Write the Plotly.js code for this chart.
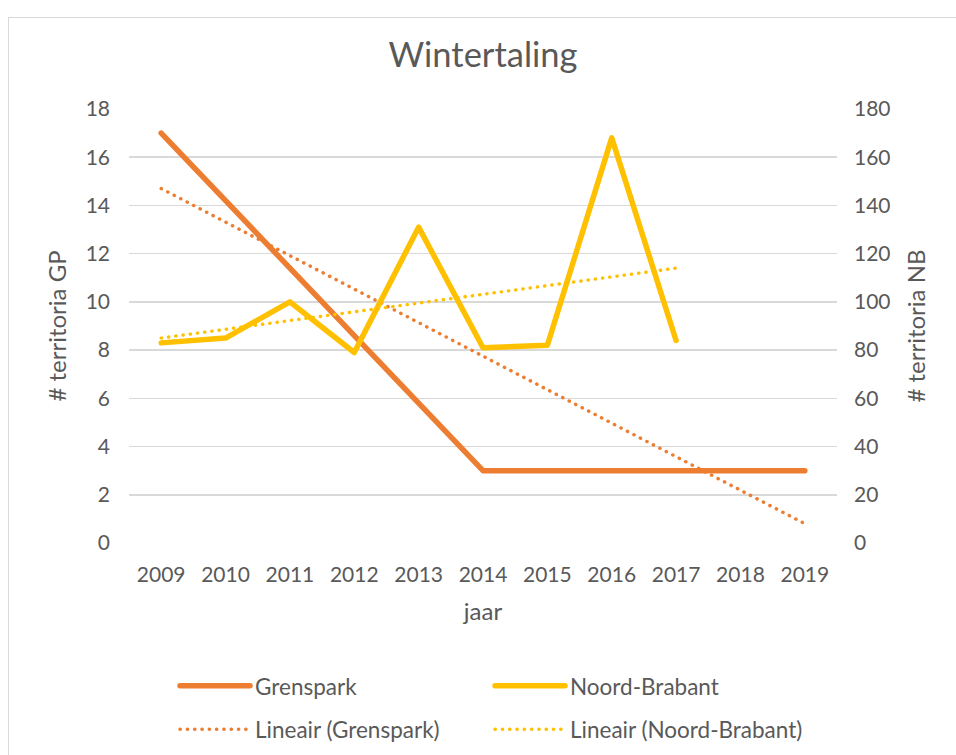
<!DOCTYPE html>
<html>
<head>
<meta charset="utf-8">
<script src="https://cdn.plot.ly/plotly-3.0.1.min.js"></script>
<style>
html,body{margin:0;padding:0;width:956px;height:755px;overflow:hidden;background:#fff;}
#chart{position:absolute;left:0;top:0;width:956px;height:755px;}
#frame{position:absolute;left:8px;top:17px;width:1000px;height:1000px;border:1px solid #D9D9D9;pointer-events:none;}
#chart path.js-line{stroke-linecap:round;stroke-linejoin:round;}
</style>
</head>
<body>
<div id="chart"></div>
<div id="frame"></div>
<script>
const years = [2009, 2010, 2011, 2012, 2013, 2014, 2015, 2016, 2017, 2018, 2019];
const grenspark = [17, null, null, null, null, 3, 3, 3, 3, 3, 3];
const noordBrabant = [83, 85, 100, 79, 131, 81, 82, 168, 84, null, null];
// trendline endpoints
const trendGPYears = [2009, 2019];
const trendGPValues = [14.7, 0.8];
const trendNBYears = [2009, 2017];
const trendNBValues = [85, 114];
const yTicksGP = [0, 2, 4, 6, 8, 10, 12, 14, 16, 18];
const yTicksNB = [0, 20, 40, 60, 80, 100, 120, 140, 160, 180];

const orange = '#ED7D31', gold = '#FFC000', txt = '#595959', grid = '#D9D9D9';
const FONT = 'Lato, "Open Sans", sans-serif';

const traces = [
  {x: years, y: grenspark, name: 'Grenspark', type: 'scatter', mode: 'lines', connectgaps: true,
   line: {color: orange, width: 5.5}, yaxis: 'y', legend: 'legend'},
  {x: years, y: noordBrabant, name: 'Noord-Brabant', type: 'scatter', mode: 'lines',
   line: {color: gold, width: 5.5}, yaxis: 'y2', legend: 'legend'},
  {x: trendGPYears, y: trendGPValues, name: 'Lineair (Grenspark)', type: 'scatter', mode: 'lines',
   line: {color: orange, width: 3.4, dash: '0.3px,7px'}, yaxis: 'y', legend: 'legend2'},
  {x: trendNBYears, y: trendNBValues, name: 'Lineair (Noord-Brabant)', type: 'scatter', mode: 'lines',
   line: {color: gold, width: 3.4, dash: '0.3px,7px'}, yaxis: 'y2', legend: 'legend2'}
];

const legendCommon = {orientation: 'h', xanchor: 'left', yanchor: 'middle', entrywidth: 230, entrywidthmode: 'pixels',
  font: {family: FONT, size: 22.5, color: txt}, bgcolor: 'rgba(0,0,0,0)', itemwidth: 70, tracegroupgap: 0};

const layout = {
  width: 956, height: 755,
  margin: {l: 129, r: 119, t: 109, b: 212, autoexpand: false},
  paper_bgcolor: '#fff', plot_bgcolor: '#fff',
  font: {family: FONT, color: txt, size: 21},
  title: {text: 'Wintertaling', font: {family: FONT, size: 34.5, color: txt}, x: 0.5, xref: 'paper', y: 0.927, yanchor: 'middle'},
  showlegend: true,
  xaxis: {type: 'linear', range: [2008.5, 2019.5], tickvals: years, ticktext: years.map(String),
    showgrid: false, zeroline: false, showline: false, ticks: '', ticklabelstandoff: 17,
    tickfont: {family: FONT, size: 21, color: txt},
    title: {text: 'jaar', font: {family: FONT, size: 24, color: txt}, standoff: 18}},
  yaxis: {range: [0, 18], tickvals: yTicksGP, showgrid: true, gridcolor: grid, gridwidth: 1.5,
    zeroline: false, showline: false, ticks: '', ticklabelstandoff: 18,
    tickfont: {family: FONT, size: 21, color: txt},
    title: {text: '# territoria GP', font: {family: FONT, size: 24, color: txt}, standoff: 12}},
  yaxis2: {range: [0, 180], tickvals: yTicksNB, overlaying: 'y', side: 'right', showgrid: false,
    zeroline: false, showline: false, ticks: '', ticklabelstandoff: 16,
    tickfont: {family: FONT, size: 21, color: txt},
    title: {text: '# territoria NB', font: {family: FONT, size: 24, color: txt}, standoff: 18}},
  legend: Object.assign({}, legendCommon, {x: 0.065, y: -0.33}),
  legend2: Object.assign({}, legendCommon, {x: 0.065, y: -0.43})
};

Plotly.newPlot('chart', traces, layout, {displayModeBar: false, staticPlot: true});
</script>
</body>
</html>
